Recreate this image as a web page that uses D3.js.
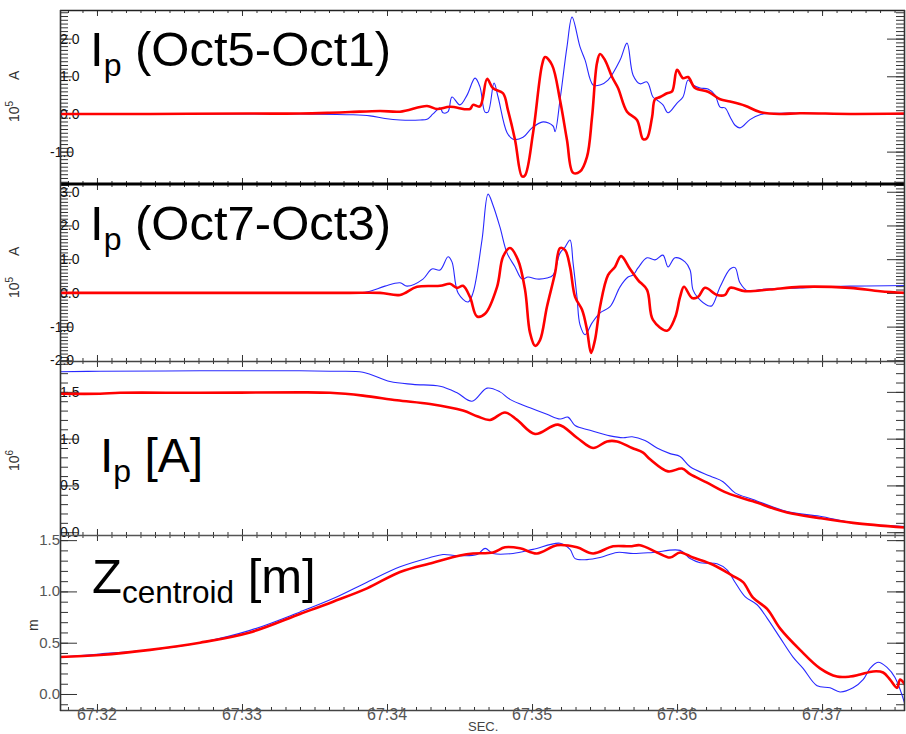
<!DOCTYPE html>
<html><head><meta charset="utf-8">
<script src="https://cdn.jsdelivr.net/npm/d3@7"></script>
<style>body{margin:0;background:#fff}svg{display:block}</style>
</head><body>
<svg id="c" width="906" height="734"></svg>
<script>
// ---- data (time in s, values) ----
const xMajor = [67.32, 67.33, 67.34, 67.35, 67.36, 67.37];
const xLabels = ["67:32", "67:33", "67:34", "67:35", "67:36", "67:37"];

const p1Ticks = [-1, 0, 1, 2];
const p1Labels = ["-1.0", "0.0", "1.0", "2.0"];
const p2Ticks = [-2, -1, 0, 1, 2, 3];
const p2Labels = ["-2.0", "-1.0", "0.0", "1.0", "2.0", "3.0"];
const p3Ticks = [0, 0.5, 1, 1.5];
const p3Labels = ["0.0", "0.5", "1.0", "1.5"];
const p4Ticks = [0, 0.5, 1, 1.5];
const p4Labels = ["0.0", "0.5", "1.0", "1.5"];

const p1Red = [[67.31745,0],[67.32366,0],[67.33055,0.01],[67.3340,0.01],[67.33607,0.03],[67.33745,0.05],[67.33952,0.08],[67.3409,0.06],[67.34276,0.21],[67.34345,0.13],[67.34434,0.19],[67.34572,0.13],[67.34593,0.24],[67.34641,0.2],[67.3469,0.93],[67.34731,0.68],[67.348,0.55],[67.34834,0.1],[67.34883,-0.69],[67.34931,-1.66],[67.34952,-1.63],[67.35007,-0.51],[67.35069,1.3],[67.3509,1.51],[67.35138,1.3],[67.35193,0.37],[67.35241,-0.69],[67.35283,-1.56],[67.35331,-1.53],[67.35379,-1.14],[67.35414,-0.08],[67.35448,1.35],[67.35469,1.59],[67.35503,1.43],[67.35552,0.98],[67.35593,0.69],[67.35655,0.06],[67.35724,-0.16],[67.35766,-0.67],[67.35793,-0.64],[67.35828,-0.08],[67.35848,0.39],[67.35883,0.45],[67.35931,0.55],[67.35966,0.6],[67.36,1.17],[67.36041,0.95],[67.36076,0.98],[67.36124,0.69],[67.36214,0.59],[67.36297,0.39],[67.36366,0.33],[67.36469,0.22],[67.36572,0.05],[67.3671,0.0],[67.36848,0.02],[67.37193,0.0],[67.37572,0.01]];
const p1Blue = [[67.31745,0],[67.3271,0],[67.334,0],[67.33745,-0.02],[67.33883,-0.05],[67.33986,-0.12],[67.3409,-0.16],[67.34228,-0.16],[67.34276,-0.14],[67.34317,0.0],[67.34366,0.16],[67.34386,0.03],[67.34421,0.06],[67.34448,0.45],[67.34503,0.24],[67.34552,0.5],[67.34607,0.95],[67.34641,0.72],[67.34676,0.05],[67.34697,0.05],[67.34738,0.82],[67.34766,0.45],[67.34828,-0.5],[67.34869,-0.67],[67.34938,-0.62],[67.35,-0.37],[67.35076,-0.21],[67.35145,-0.32],[67.35159,-0.47],[67.35193,0.37],[67.35241,1.78],[67.35276,2.57],[67.35331,1.78],[67.35366,1.43],[67.35421,0.77],[67.35469,0.77],[67.35524,0.9],[67.35607,1.43],[67.35655,1.88],[67.35697,1.03],[67.35745,0.8],[67.35793,0.85],[67.35834,0.45],[67.35862,0.37],[67.35903,0.24],[67.35938,0.03],[67.36,0.29],[67.36041,0.45],[67.36076,0.9],[67.3611,0.77],[67.36159,0.69],[67.36214,0.66],[67.36262,0.5],[67.36297,0.18],[67.36331,0.16],[67.36366,-0.08],[67.364,-0.3],[67.36434,-0.37],[67.36503,-0.15],[67.36572,-0.02],[67.3671,0.02],[67.37193,0],[67.37572,0]];

const p2Red = [[67.31745,0],[67.334,0],[67.33745,0],[67.33952,0],[67.3409,-0.06],[67.34207,0.18],[67.34366,0.21],[67.34434,0.27],[67.34483,0.15],[67.34524,0.21],[67.34572,-0.12],[67.34621,-0.7],[67.34676,-0.62],[67.34759,0.18],[67.348,1.07],[67.34848,1.33],[67.34903,0.98],[67.34952,0.09],[67.34986,-1.18],[67.35021,-1.57],[67.35055,-1.4],[67.35103,-0.41],[67.35159,0.59],[67.35193,1.33],[67.35228,1.27],[67.35262,0.77],[67.35297,-0.12],[67.35345,-0.5],[67.35379,-1.09],[67.35407,-1.78],[67.35434,-1.4],[67.35469,-0.41],[67.35524,0.53],[67.35572,0.77],[67.35614,1.09],[67.35676,0.71],[67.35731,0.38],[67.35793,0.09],[67.35834,-0.8],[67.35931,-1.12],[67.35986,-0.74],[67.36021,-0.12],[67.36048,0.18],[67.36103,-0.15],[67.36145,-0.12],[67.36193,0.15],[67.36276,-0.06],[67.36331,-0.06],[67.36366,0.15],[67.36469,0.05],[67.36641,0.1],[67.36848,0.18],[67.37193,0.15],[67.374,0.05],[67.37572,0]];
const p2Blue = [[67.31745,0],[67.334,0],[67.33814,0],[67.33883,0.05],[67.33986,0.2],[67.3409,0.3],[67.34138,0.2],[67.34248,0.41],[67.3431,0.71],[67.34366,0.68],[67.34421,1.07],[67.34448,0.92],[67.3449,0.0],[67.34559,-0.27],[67.34593,0.0],[67.34655,1.57],[67.34697,2.93],[67.34731,2.6],[67.34779,1.95],[67.34828,1.18],[67.34883,0.77],[67.34931,0.41],[67.34972,0.47],[67.35034,0.41],[67.35103,0.44],[67.35145,0.53],[67.35193,1.18],[67.35228,1.36],[67.35262,1.57],[67.35283,0.89],[67.3531,-0.12],[67.35331,-0.95],[67.35366,-1.24],[67.35414,-0.89],[67.35469,-0.59],[67.35538,-0.41],[67.35607,0.18],[67.35662,0.47],[67.35697,0.53],[67.35731,0.74],[67.35793,1.04],[67.35848,0.98],[67.35903,1.12],[67.35938,0.77],[67.35986,1.04],[67.36055,0.92],[67.3609,0.68],[67.3611,0.09],[67.36145,-0.15],[67.36214,-0.38],[67.36241,-0.38],[67.36297,0.18],[67.36366,0.71],[67.364,0.75],[67.36434,0.3],[67.3649,0.05],[67.36572,0.1],[67.36848,0.15],[67.37193,0.2],[67.37572,0.22]];

const p3Blue = [[67.31745,1.715],[67.32021,1.72],[67.3271,1.725],[67.334,1.725],[67.33607,1.72],[67.33834,1.71],[67.34021,1.61],[67.34179,1.58],[67.34366,1.56],[67.34483,1.49],[67.34586,1.40],[67.3469,1.54],[67.34779,1.50],[67.34848,1.42],[67.34986,1.33],[67.35103,1.26],[67.35193,1.21],[67.35248,1.23],[67.35297,1.14],[67.354,1.09],[67.35538,1.03],[67.35628,1.01],[67.3569,1.02],[67.35779,0.98],[67.35862,0.9],[67.35952,0.84],[67.36021,0.81],[67.3609,0.7],[67.36228,0.6],[67.36317,0.54],[67.364,0.42],[67.36524,0.35],[67.36759,0.22],[67.36986,0.17],[67.37214,0.1],[67.37572,0.06]];
const p3Red = [[67.31745,1.48],[67.32021,1.48],[67.32159,1.49],[67.3271,1.49],[67.334,1.495],[67.33607,1.49],[67.33834,1.46],[67.34069,1.41],[67.34297,1.37],[67.34524,1.30],[67.34621,1.24],[67.3471,1.2],[67.34814,1.28],[67.34897,1.2],[67.35021,1.05],[67.35179,1.15],[67.3531,1.01],[67.35421,0.9],[67.35517,0.97],[67.35586,0.97],[67.3569,0.9],[67.35766,0.85],[67.35814,0.78],[67.35938,0.65],[67.36034,0.68],[67.3609,0.62],[67.36207,0.53],[67.36345,0.42],[67.36524,0.33],[67.36759,0.21],[67.36986,0.15],[67.37214,0.1],[67.37572,0.05]];

const p4Blue = [[67.31745,0.36],[67.32021,0.39],[67.32366,0.43],[67.3271,0.5],[67.33055,0.62],[67.334,0.8],[67.33628,0.93],[67.33862,1.09],[67.3409,1.24],[67.34297,1.33],[67.34386,1.36],[67.34483,1.35],[67.34621,1.36],[67.34676,1.42],[67.34731,1.37],[67.34869,1.37],[67.35007,1.41],[67.35193,1.47],[67.35262,1.41],[67.35297,1.32],[67.35379,1.31],[67.35469,1.33],[67.35586,1.38],[67.35697,1.37],[67.35834,1.38],[67.36021,1.40],[67.3609,1.32],[67.36159,1.28],[67.36276,1.27],[67.36345,1.21],[67.364,1.09],[67.36469,0.95],[67.36552,0.87],[67.36621,0.74],[67.3671,0.55],[67.368,0.36],[67.36869,0.25],[67.36966,0.08],[67.37055,0.06],[67.37124,0.02],[67.37214,0.06],[67.37283,0.14],[67.37331,0.25],[67.37386,0.31],[67.37448,0.26],[67.37503,0.16],[67.37572,-0.1]];
const p4Red = [[67.31745,0.36],[67.32021,0.38],[67.32366,0.43],[67.3271,0.5],[67.33055,0.6],[67.334,0.78],[67.33628,0.9],[67.33862,1.03],[67.3409,1.19],[67.34317,1.28],[67.34503,1.35],[67.34593,1.37],[67.34731,1.38],[67.34814,1.43],[67.34917,1.42],[67.35034,1.37],[67.35172,1.45],[67.3531,1.43],[67.35421,1.37],[67.35559,1.44],[67.35676,1.44],[67.35745,1.45],[67.35862,1.38],[67.35952,1.33],[67.36021,1.38],[67.3611,1.33],[67.36248,1.26],[67.36386,1.15],[67.36455,1.09],[67.36524,0.94],[67.36621,0.83],[67.3671,0.64],[67.36848,0.43],[67.36986,0.25],[67.37103,0.17],[67.37193,0.17],[67.37262,0.19],[67.37352,0.22],[67.37421,0.21],[67.37469,0.14],[67.37517,0.06],[67.37538,0.14],[67.37572,0.09]];

// ---- layout ----
const L = 60, R = 905;
const panels = [
  {top:10, bottom:184, domain:[-1.86, 2.76], ticks:p1Ticks, labels:p1Labels, minor:[-1.8, 2.7], red:p1Red, blue:p1Blue, lab:"in", majLen:12},
  {top:184, bottom:361, domain:[-2.02, 3.23], ticks:p2Ticks, labels:p2Labels, minor:[-2.0, 3.2], red:p2Red, blue:p2Blue, lab:"in", majLen:12},
  {top:361, bottom:535, domain:[-0.03, 1.83], ticks:p3Ticks, labels:p3Labels, minor:[0, 1.8], red:p3Red, blue:p3Blue, lab:"in", majLen:18},
  {top:535, bottom:710, domain:[-0.156, 1.55], ticks:p4Ticks, labels:p4Labels, minor:[-0.1, 1.5], red:p4Red, blue:p4Blue, lab:"out", majLen:17}
];

const svg = d3.select("#c");
const x = d3.scaleLinear().domain([67.31745, 67.37572]).range([L, R]);
const xMinor = d3.range(67318, 67376).map(d => d / 1000);

panels.forEach((p, i) => {
  const y = d3.scaleLinear().domain(p.domain).range([p.bottom, p.top]);
  const clipId = "clip" + i;
  svg.append("clipPath").attr("id", clipId).append("rect")
    .attr("x", L).attr("y", p.top).attr("width", R - L).attr("height", p.bottom - p.top);

  const minorVals = d3.range(Math.round(p.minor[0] * 10), Math.round(p.minor[1] * 10) + 1).map(d => d / 10);

  const ax = svg.append("g").attr("color", "#333");
  ax.append("g").attr("transform", `translate(${L},0)`)
    .call(d3.axisRight(y).tickValues(minorVals).tickSize(8).tickFormat(""))
    .call(g => g.select(".domain").remove());
  ax.append("g").attr("transform", `translate(${L},0)`)
    .call(d3.axisRight(y).tickValues(p.ticks).tickSize(p.majLen).tickFormat(""))
    .call(g => g.select(".domain").remove());
  ax.append("g").attr("transform", `translate(${R},0)`)
    .call(d3.axisLeft(y).tickValues(minorVals).tickSize(9).tickFormat(""))
    .call(g => g.select(".domain").remove());
  ax.append("g").attr("transform", `translate(${R},0)`)
    .call(d3.axisLeft(y).tickValues(p.ticks).tickSize(18).tickFormat(""))
    .call(g => g.select(".domain").remove());
  ax.append("g").attr("transform", `translate(0,${p.top})`)
    .call(d3.axisBottom(x).tickValues(xMinor).tickSize(3).tickFormat(""))
    .call(g => g.select(".domain").remove());
  ax.append("g").attr("transform", `translate(0,${p.top})`)
    .call(d3.axisBottom(x).tickValues(xMajor).tickSize(6).tickFormat(""))
    .call(g => g.select(".domain").remove());
  ax.append("g").attr("transform", `translate(0,${p.bottom})`)
    .call(d3.axisTop(x).tickValues(xMinor).tickSize(3).tickFormat(""))
    .call(g => g.select(".domain").remove());
  ax.append("g").attr("transform", `translate(0,${p.bottom})`)
    .call(d3.axisTop(x).tickValues(xMajor).tickSize(6).tickFormat(""))
    .call(g => g.select(".domain").remove());

  // tick labels
  const tl = svg.append("g").attr("font-family", "Liberation Sans, Arial, sans-serif");
  p.ticks.forEach((v, k) => {
    const lab = p.labels[k];
    if (p.lab === "in") {
      tl.append("text").attr("x", v < 0 ? 50 : 60).attr("y", y(v) + 5)
        .attr("font-size", 14).attr("fill", "#111").text(lab);
    } else {
      tl.append("text").attr("x", 60).attr("y", y(v) + 5).attr("text-anchor", "end")
        .attr("font-size", 15).attr("fill", "#555").text(lab);
    }
  });

  // lines
  const line = d3.line().x(d => x(d[0])).y(d => y(d[1])).curve(d3.curveCatmullRom.alpha(0.5));
  const lg = svg.append("g").attr("clip-path", `url(#${clipId})`).attr("fill", "none");
  lg.append("path").datum(p.blue).attr("d", line).attr("stroke", "#2828ff").attr("stroke-width", 1.1);
  lg.append("path").datum(p.red).attr("d", line).attr("stroke", "#ff0000").attr("stroke-width", 2.6).attr("stroke-linejoin", "round");
});

// frame lines
const fr = svg.append("g").attr("fill", "none");
fr.append("line").attr("x1", L).attr("x2", R).attr("y1", 10.5).attr("y2", 10.5).attr("stroke", "#222").attr("stroke-width", 1.5);
fr.append("line").attr("x1", L).attr("x2", R).attr("y1", 184).attr("y2", 184).attr("stroke", "#000").attr("stroke-width", 3);
fr.append("line").attr("x1", L).attr("x2", R).attr("y1", 361.5).attr("y2", 361.5).attr("stroke", "#444").attr("stroke-width", 1.6);
fr.append("line").attr("x1", L).attr("x2", R).attr("y1", 535.5).attr("y2", 535.5).attr("stroke", "#555").attr("stroke-width", 1.6);
fr.append("line").attr("x1", L).attr("x2", R).attr("y1", 710.5).attr("y2", 710.5).attr("stroke", "#444").attr("stroke-width", 1.6);
fr.append("line").attr("x1", L + 0.5).attr("x2", L + 0.5).attr("y1", 10).attr("y2", 711).attr("stroke", "#333").attr("stroke-width", 1.6);
fr.append("line").attr("x1", R - 0.5).attr("x2", R - 0.5).attr("y1", 10).attr("y2", 711).attr("stroke", "#333").attr("stroke-width", 1.6);

// x tick labels
const xl = svg.append("g").attr("font-family", "Liberation Sans, Arial, sans-serif").attr("font-size", 16).attr("fill", "#555").attr("text-anchor", "middle");
xMajor.forEach((t, k) => xl.append("text").attr("x", x(t)).attr("y", 720).text(xLabels[k]));
svg.append("text").attr("x", 468).attr("y", 731).attr("font-family", "Liberation Sans, Arial, sans-serif")
  .attr("font-size", 13).attr("fill", "#444").text("SEC.");

// y axis titles
const yt = svg.append("g").attr("font-family", "Liberation Sans, Arial, sans-serif").attr("font-size", 14).attr("fill", "#333");
function yTitle(px, py, base, sup) {
  const t = yt.append("text").attr("transform", `translate(${px},${py}) rotate(-90)`);
  t.append("tspan").text(base);
  if (sup) t.append("tspan").attr("font-size", 10).attr("dy", -6).text(sup);
}
yTitle(19, 122, "10", "5"); yTitle(19, 80, "A");
yTitle(19, 298, "10", "5"); yTitle(19, 256, "A");
yTitle(19, 471, "10", "6");
yTitle(38, 631, "m");

// panel titles
const tt = svg.append("g").attr("font-family", "Liberation Sans, Arial, sans-serif").attr("fill", "#000");
function title(px, py, main, sub, rest, fs, sfs) {
  const t = tt.append("text").attr("x", px).attr("y", py).attr("font-size", fs);
  t.append("tspan").text(main);
  t.append("tspan").attr("font-size", sfs).attr("dy", 10).text(sub);
  t.append("tspan").attr("dy", -10).text(rest);
}
title(90, 66, "I", "p", " (Oct5-Oct1)", 49, 32);
title(90, 240, "I", "p", " (Oct7-Oct3)", 49, 32);
title(100, 472, "I", "p", " [A]", 48, 32);
title(92, 593, "Z", "centroid", " [m]", 49, 31.5);
</script>
</body></html>
